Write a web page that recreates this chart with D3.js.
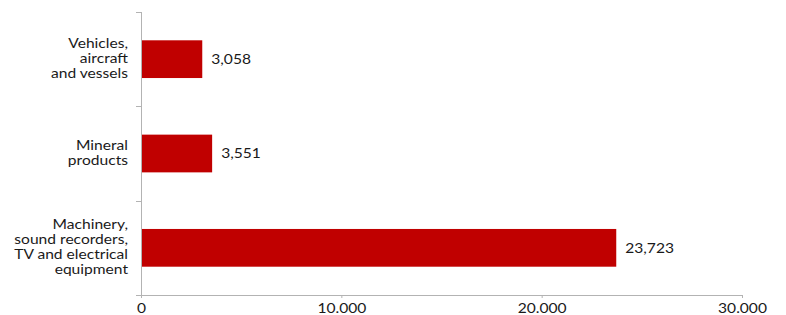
<!DOCTYPE html>
<meta charset="utf-8">
<title>Horizontal bars</title>
<style>
  body { margin: 0; background: #fff; }
  text { font-family: Lato, "Open Sans", sans-serif; fill: #1a1a1a; }
</style>
<body>
<div id="chart"></div>
<script src="https://cdn.jsdelivr.net/npm/d3@7"></script>
<script>

// data
var categories = [
  ["Vehicles,", "aircraft", "and vessels"],
  ["Mineral", "products"],
  ["Machinery,", "sound recorders,", "TV and electrical", "equipment"]
];
var values = [3058, 3551, 23723];
var xTicks = [0, 10000, 20000, 30000];

var width = 786, height = 315;
var margin = {top: 12, right: 44, bottom: 20, left: 141};
var stretch = 1.2;   // the source font is wide, stretch Lato a bit

var svg = d3.select("#chart").append("svg")
    .attr("width", width)
    .attr("height", height);

var keys = categories.map(function(c) { return c.join(" "); });

var x = d3.scaleLinear()
    .domain([0, 30000])
    .range([margin.left, width - margin.right]);

var y = d3.scaleBand()
    .domain(keys)
    .range([margin.top, height - margin.bottom])
    .paddingInner(0.6)
    .paddingOuter(0.3);

var axisColor = "#b3b3b3";

function place(px, py) {
  return "translate(" + px + "," + py + ") scale(" + stretch + ",1)";
}

// bars
svg.selectAll("rect.bar")
  .data(values)
  .enter().append("rect")
    .attr("class", "bar")
    .attr("x", x(0))
    .attr("y", function(d, i) { return y(keys[i]); })
    .attr("width", function(d) { return x(d) - x(0); })
    .attr("height", y.bandwidth())
    .style("fill", "#c00000");

// value labels
svg.selectAll("text.val")
  .data(values)
  .enter().append("text")
    .attr("class", "val")
    .attr("transform", function(d, i) {
      return place(x(d) + 9, y(keys[i]) + y.bandwidth() / 2);
    })
    .attr("dy", "0.36em")
    .style("font-size", "13px")
    .text(function(d) { return d3.format(",")(d); });

// x axis
var fmt = function(d) { return d3.format(",")(d).replace(/,/g, "."); };
var xAxis = svg.append("g")
    .attr("transform", "translate(0," + (height - margin.bottom) + ")")
    .call(d3.axisBottom(x).tickValues(xTicks).tickFormat(fmt).tickSize(3).tickSizeOuter(0));
xAxis.select(".domain").remove();
xAxis.append("line")
    .attr("x1", x(0) - 5).attr("x2", x(30000))
    .attr("y1", 0.5).attr("y2", 0.5)
    .attr("stroke", axisColor);
xAxis.selectAll(".tick line").attr("stroke", axisColor);
xAxis.selectAll(".tick text")
    .attr("y", null)
    .attr("dy", null)
    .attr("transform", place(0, 17.5))
    .style("font-size", "13px")
    .style("fill", "#1a1a1a");

// y axis (line with separators between categories)
var yAxis = svg.append("g");
yAxis.append("line")
    .attr("x1", x(0) + 0.5).attr("x2", x(0) + 0.5)
    .attr("y1", margin.top).attr("y2", height - margin.bottom + 3)
    .attr("stroke", axisColor);
var bounds = keys.map(function(k) { return y(k) - y.step() * y.paddingOuter(); });
bounds.push(height - margin.bottom);
yAxis.selectAll("line.sep")
  .data(bounds)
  .enter().append("line")
    .attr("class", "sep")
    .attr("x1", x(0) - 5).attr("x2", x(0))
    .attr("y1", function(d) { return Math.round(d) + 0.5; })
    .attr("y2", function(d) { return Math.round(d) + 0.5; })
    .attr("stroke", axisColor);

// category labels
var lineH = 15;
var labels = svg.selectAll("text.cat")
  .data(categories)
  .enter().append("text")
    .attr("class", "cat")
    .attr("text-anchor", "end")
    .style("font-size", "13px")
    .attr("transform", function(d, i) {
      var cy = y(keys[i]) + y.bandwidth() / 2 - (d.length - 1) * lineH / 2 - 1;
      return place(x(0) - 13, cy);
    });
labels.selectAll("tspan")
  .data(function(d) { return d; })
  .enter().append("tspan")
    .attr("x", 0)
    .attr("y", function(d, i) { return i * lineH; })
    .attr("dy", "0.36em")
    .text(function(d) { return d; });

</script>
</body>
